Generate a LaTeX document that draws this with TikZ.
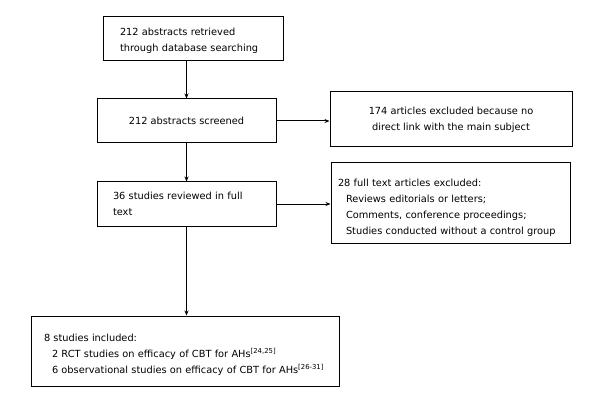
\documentclass[tikz,border=0pt]{standalone}
\usepackage{fontspec}
\setmainfont{DejaVu Sans}
\usepackage{tikz}
\usetikzlibrary{positioning,arrows.meta}

\begin{document}
\begin{tikzpicture}[x=1pt,y=-1pt,line width=1pt,>={Stealth[length=5pt,width=4pt]},
    font=\fontsize{9.8}{16}\selectfont,
    box/.style={draw,rectangle,inner ysep=0pt,align=left}]
    	\useasboundingbox (0,0) rectangle (591,406);
    	\node[box,minimum height=44pt,text width=146pt,inner xsep=17pt] (0) at (193,39)
    	    {\rule{0pt}{12pt}212 abstracts retrieved\\through database searching};
    	\node[box,align=center,minimum width=179pt,minimum height=44pt] (1) at (186.5,121)
    	    {212 abstracts screened};
    	\node[box,minimum height=44pt,text width=147pt,inner xsep=16pt] (2) at (186.5,204)
    	    {36 studies reviewed in full\\text};
    	\node[box,align=center,minimum width=242pt,minimum height=55pt] (3) at (451,119.5)
    	    {174 articles excluded because no\\direct link with the main subject};
    	\node[box,minimum height=80pt,text width=225pt,inner xsep=7pt] (4) at (450.5,203)
    	    {\rule{0pt}{18pt}28 full text articles excluded:\\
    	     \hspace*{8pt}Reviews editorials or letters;\\
    	     \hspace*{8pt}Comments, conference proceedings;\\
    	     \hspace*{8pt}Studies conducted without a control group};
    	\node[box,minimum height=70pt,text width=282pt,inner xsep=13pt] (5) at (185,351)
    	    {\rule{0pt}{15pt}8 studies included:\\
    	     \hspace*{8pt}2 RCT studies on efficacy of CBT for AHs\textsuperscript{[24,25]}\\
    	     \hspace*{8pt}6 observational studies on efficacy of CBT for AHs\textsuperscript{[26-31]}};
    	\draw[->] (0.south -| 1.north) -- (1.north);
    	\draw[->] (1) -- (2);
    	\draw[->] (2.south) -- (2.south |- 5.north);
    	\draw[->] (1.east) -- (1.east -| 3.west);
    	\draw[->] (2.east) -- (2.east -| 4.west);
    \end{tikzpicture}
\end{document}
